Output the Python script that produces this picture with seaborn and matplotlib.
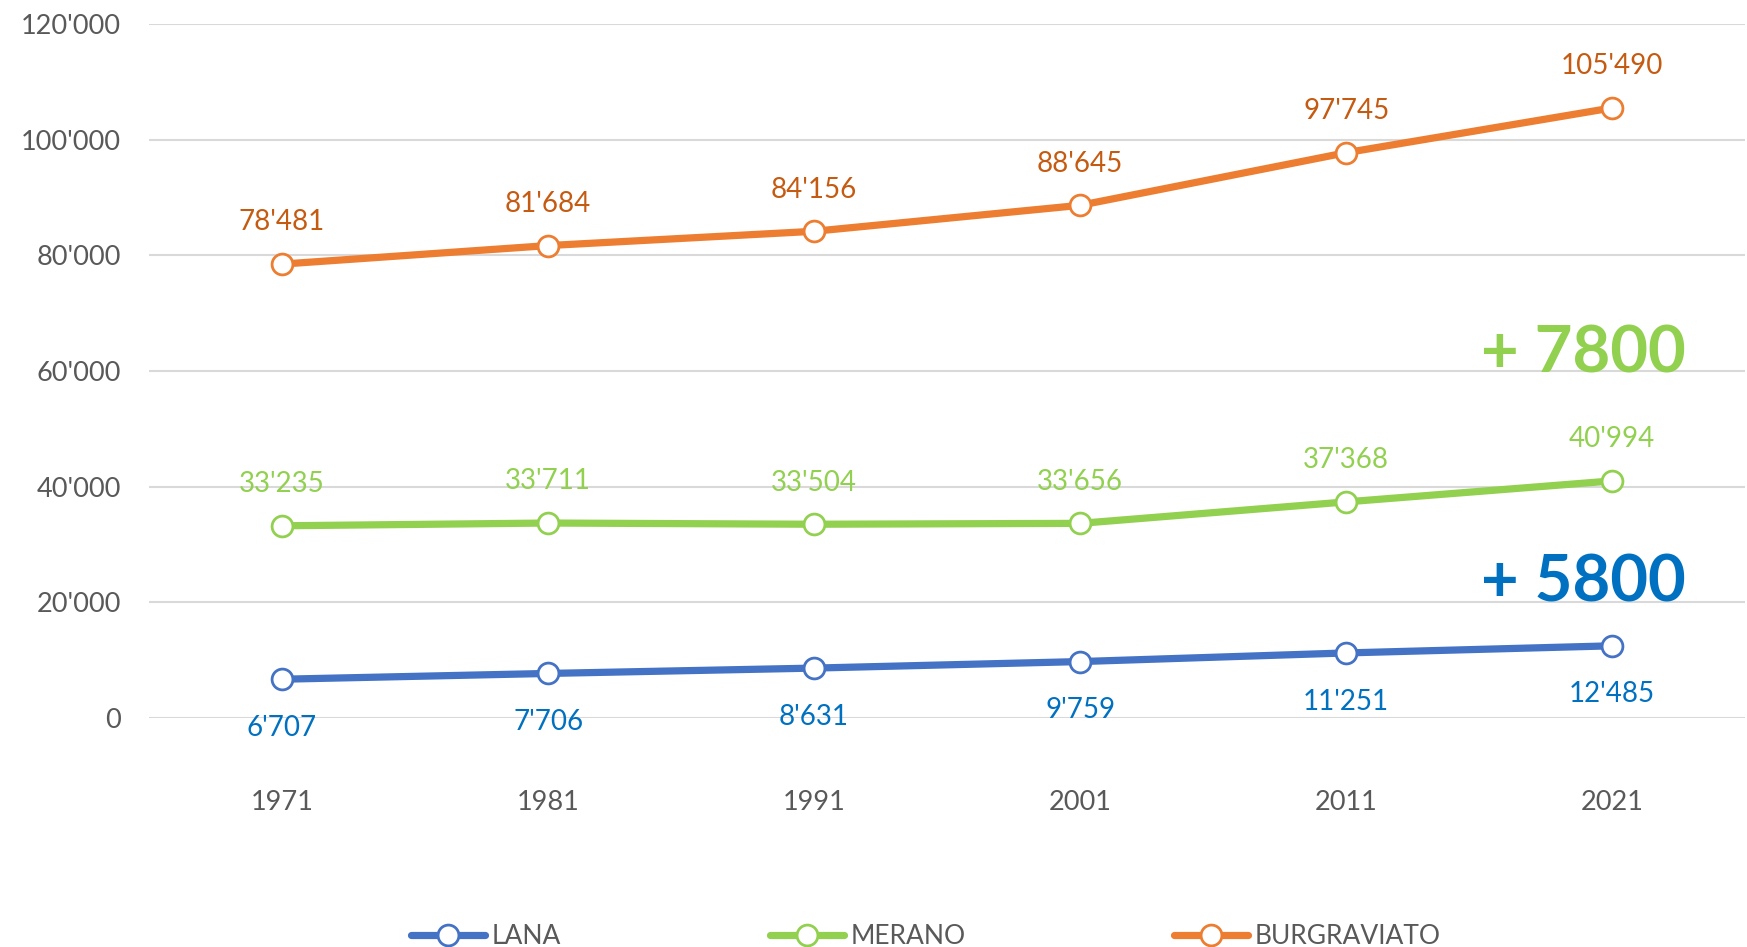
import matplotlib
matplotlib.use("Agg")
import matplotlib.pyplot as plt
import seaborn as sns
import pandas as pd
from matplotlib.lines import Line2D

years = ["1971", "1981", "1991", "2001", "2011", "2021"]
lana = [6707, 7706, 8631, 9759, 11251, 12485]
merano = [33235, 33711, 33504, 33656, 37368, 40994]
burgraviato = [78481, 81684, 84156, 88645, 97745, 105490]
series_names = ["LANA", "MERANO", "BURGRAVIATO"]
yticks = [0, 20000, 40000, 60000, 80000, 100000, 120000]
ann_7800 = "+ 7800"
ann_5800 = "+ 5800"

line_colors = {"LANA": "#4472C4", "MERANO": "#92D050", "BURGRAVIATO": "#ED7D31"}
label_colors = {"LANA": "#0070C0", "MERANO": "#92D050", "BURGRAVIATO": "#C55A11"}

df = pd.DataFrame({
    "year": years * 3,
    "value": lana + merano + burgraviato,
    "series": [s for s in series_names for _ in years],
})

sns.set_theme(style="white")
plt.rcParams["font.family"] = ["Lato", "DejaVu Sans"]

fig = plt.figure(figsize=(17.47, 9.47), dpi=100)
ax = fig.add_axes([0.0853, 0.2418, 0.9137, 0.7329])

sns.lineplot(data=df, x="year", y="value", hue="series", palette=line_colors,
             hue_order=series_names, linewidth=5.2, marker="o", markersize=15,
             markerfacecolor="white", markeredgewidth=2, legend=False, ax=ax,
             sort=False, zorder=3)
for line, s in zip(ax.get_lines(), series_names):
    line.set_markeredgecolor(line_colors[s])

ax.set_xlim(-0.5, 5.5)
ax.set_ylim(0, 120000)
ax.set_yticks(yticks)
ax.set_yticklabels([f"{v:,}".replace(",", "'") for v in yticks])
ax.set_xlabel("")
ax.set_ylabel("")
ax.grid(axis="y", color="#D9D9D9", linewidth=1.5, zorder=0)
ax.grid(axis="x", visible=False)
for sp in ax.spines.values():
    sp.set_visible(False)
ax.tick_params(axis="y", length=0, pad=20, labelsize=19.5, labelcolor="#595959")
ax.tick_params(axis="x", length=0, pad=52, labelsize=19.5, labelcolor="#595959")

def fmt(v):
    return f"{v:,}".replace(",", "'")

for s, vals, off in [("BURGRAVIATO", burgraviato, 30), ("MERANO", merano, 30), ("LANA", lana, -35)]:
    for i, v in enumerate(vals):
        ax.annotate(fmt(v), (i, v), xytext=(0, off), textcoords="offset points",
                    ha="center", va="center", fontsize=20, color=label_colors[s])

ax.text(4.89, 63000, ann_7800, ha="center", va="center", fontsize=47,
        fontweight="bold", color="#92D050")
ax.text(4.89, 23300, ann_5800, ha="center", va="center", fontsize=47,
        fontweight="bold", color="#0070C0")

handles = [Line2D([0], [0], color=line_colors[s], linewidth=5.2, marker="o",
                  markersize=15, markerfacecolor="white",
                  markeredgecolor=line_colors[s], markeredgewidth=2)
           for s in series_names]
leg = fig.legend(handles, series_names, loc="center", bbox_to_anchor=(0.53, 0.011),
                 ncol=3, frameon=False, fontsize=19, handlelength=2.8,
                 handletextpad=0.25, columnspacing=7.9)
for t in leg.get_texts():
    t.set_color("#595959")

fig.savefig("out.png", dpi=100)
